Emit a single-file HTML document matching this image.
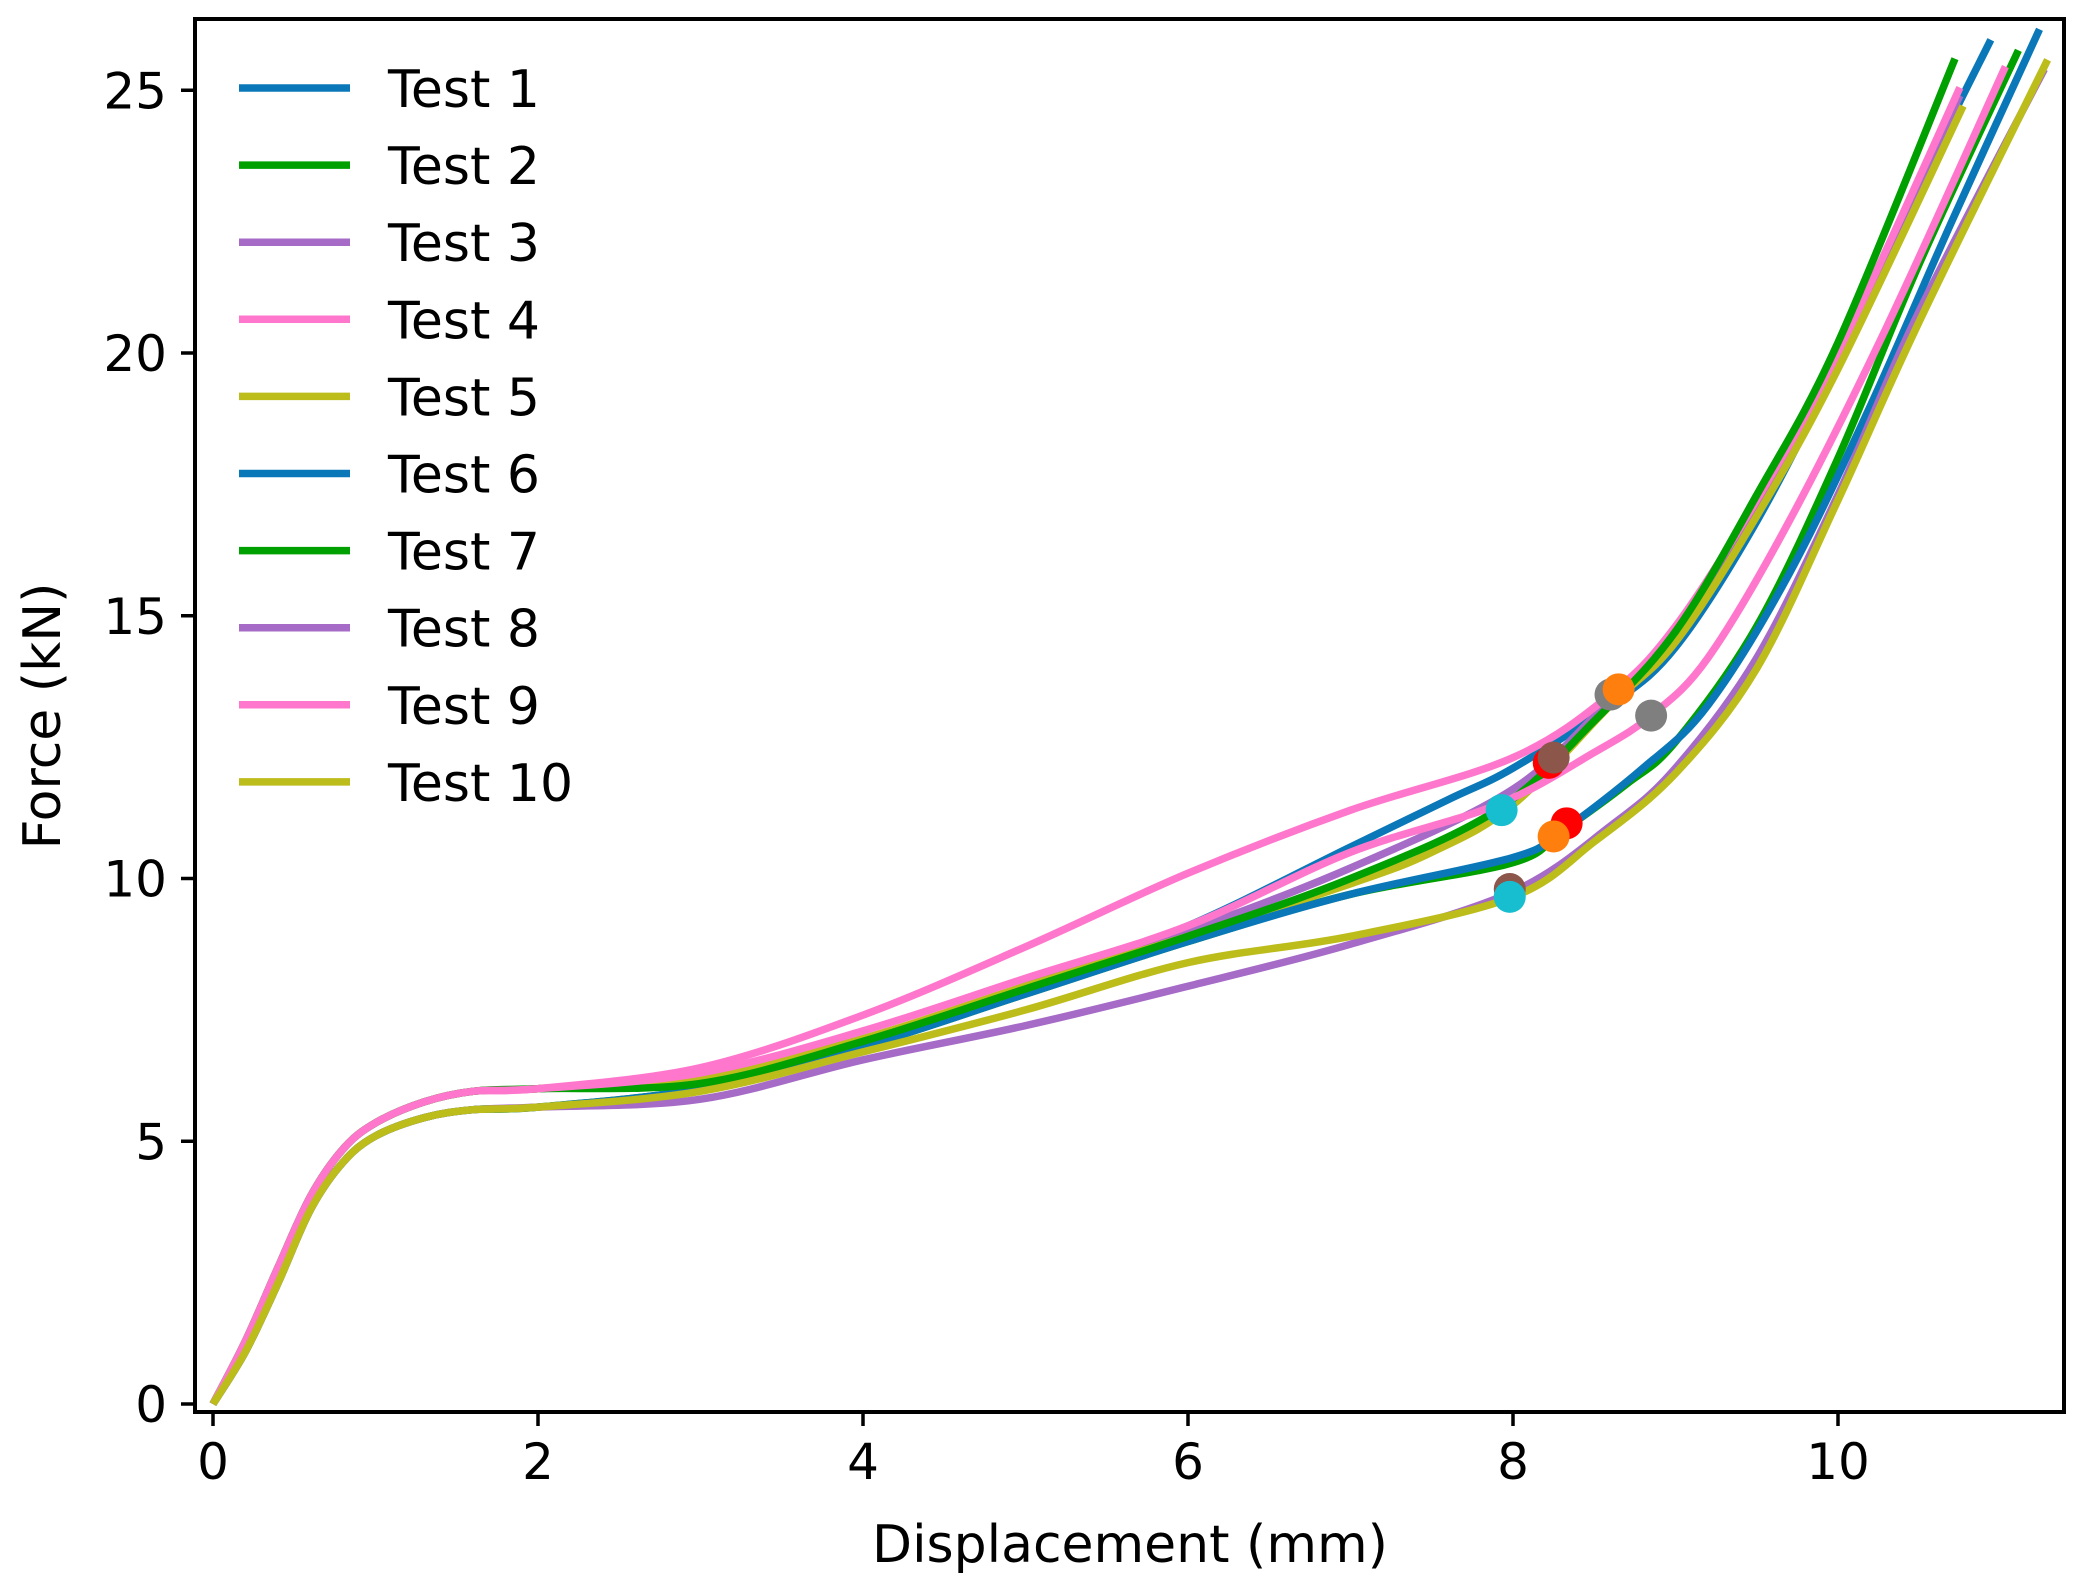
<!DOCTYPE html>
<html><head><meta charset="utf-8">
<style>html,body{margin:0;padding:0;background:#fff;}svg{display:block;font-family:"DejaVu Sans","Liberation Sans",sans-serif;}</style>
</head><body>
<svg id="chart" width="2085" height="1592" viewBox="0 0 2085 1592" xmlns="http://www.w3.org/2000/svg">
<g id="plot"></g>
<g id="axes"></g>
<g id="legend"></g>
</svg>
<script>
const seriesNames=["Test 1","Test 2","Test 3","Test 4","Test 5","Test 6","Test 7","Test 8","Test 9","Test 10"];
const seriesColors=["#0a78b8","#00a000","#a66bc6","#ff77cc","#bcbc1a","#0a78b8","#00a000","#a66bc6","#ff77cc","#bcbc1a"];
const earlyHi=[[0,0],[0.2,1.2],[0.4,2.6],[0.6,3.95],[0.8,4.85],[1,5.35],[1.3,5.75],[1.6,5.95],[2,6.0]];
const earlyLo=[[0,0],[0.2,1.0],[0.4,2.3],[0.6,3.7],[0.8,4.6],[1,5.1],[1.3,5.45],[1.6,5.6],[2,5.65]];
const s1=[[3,6.2],[4,6.95],[5,7.95],[6,9.1],[7,10.6],[7.6,11.5],[8,12.1],[8.6,13.3],[9,14.4],[9.5,16.8],[10,19.8],[10.5,23.2],[10.94,25.96]];
const s2=[[3,6.0],[4,6.8],[5,7.8],[6,8.8],[7,9.7],[8,10.3],[8.3,10.9],[8.7,11.8],[9,12.6],[9.5,14.8],[10,18],[10.5,21.7],[11.11,25.76]];
const s3=[[3,6.2],[4,6.95],[5,7.95],[6,9.0],[7,10.2],[8,11.7],[8.6,13.4],[9,14.6],[9.5,17],[10,19.9],[10.75,24.9]];
const s4=[[3,6.4],[4,7.4],[5,8.7],[6,10.1],[7,11.3],[8,12.3],[8.6,13.5],[9,14.8],[9.5,17.2],[10,20],[10.75,25.05]];
const s5=[[3,6.2],[4,6.95],[5,7.95],[6,8.9],[7,9.9],[7.5,10.5],[8,11.4],[8.6,13.3],[9,14.5],[9.5,16.9],[10,19.7],[10.77,24.7]];
const s6=[[3,6.0],[4,6.8],[5,7.8],[6,8.8],[7,9.7],[8,10.4],[8.3,10.9],[8.8,12.1],[9.2,13.3],[9.7,15.8],[10.2,19],[10.7,22.5],[11.24,26.16]];
const s7=[[3,6.1],[4,6.9],[5,7.9],[6,8.9],[7,10.0],[7.9,11.3],[8.5,13],[9,14.7],[9.5,17.3],[10,20.2],[10.72,25.6]];
const s8=[[3,5.8],[4,6.55],[5,7.2],[6,7.95],[7,8.75],[8,9.75],[8.6,11],[9,12.1],[9.5,14.2],[10,17.3],[10.5,20.8],[11.27,25.4]];
const s9=[[3,6.3],[4,7.1],[5,8.1],[6,9.1],[7,10.5],[7.9,11.4],[8.5,12.4],[8.85,13.1],[9.2,14.2],[9.7,16.8],[10.3,20.5],[11.03,25.45]];
const s10=[[3,5.95],[4,6.7],[5,7.5],[6,8.4],[7,8.9],[8,9.65],[8.5,10.7],[9,12],[9.5,14],[10,17.2],[10.5,20.6],[11.29,25.58]];
const seriesData=[s1,s2,s3,s4,s5,s6,s7,s8,s9,s10];
const markerX=[8.6,8.85,8.22,8.33,8.25,8.65,7.98,8.25,7.93,7.98];
const markerY=[13.5,13.1,12.2,11.05,10.8,13.6,9.8,12.3,11.3,9.65];
const markerColors=["#7f7f7f","#7f7f7f","#ff0000","#ff0000","#ff7f0e","#ff7f0e","#8c564b","#8c564b","#17becf","#17becf"];
const xTicks=[0,2,4,6,8,10];
const yTicks=[0,5,10,15,20,25];

const NS="http://www.w3.org/2000/svg";
const L=195,R=2064,T=19,B=1412;
const X=v=>213+v*162.5;
const Y=v=>1404-v*52.55;
function mk(tag,attrs,parent){const e=document.createElementNS(NS,tag);for(const k in attrs)e.setAttribute(k,attrs[k]);parent.appendChild(e);return e;}
function smooth(pts){
  let d="M"+X(pts[0][0]).toFixed(1)+","+Y(pts[0][1]).toFixed(1);
  for(let i=0;i<pts.length-1;i++){
    const p0=pts[Math.max(0,i-1)],p1=pts[i],p2=pts[i+1],p3=pts[Math.min(pts.length-1,i+2)];
    const c1x=X(p1[0])+(X(p2[0])-X(p0[0]))/6,c1y=Y(p1[1])+(Y(p2[1])-Y(p0[1]))/6;
    const c2x=X(p2[0])-(X(p3[0])-X(p1[0]))/6,c2y=Y(p2[1])-(Y(p3[1])-Y(p1[1]))/6;
    d+="C"+c1x.toFixed(1)+","+c1y.toFixed(1)+" "+c2x.toFixed(1)+","+c2y.toFixed(1)+" "+X(p2[0]).toFixed(1)+","+Y(p2[1]).toFixed(1);
  }
  return d;
}
const plot=document.getElementById('plot');
const lowSet=[1,5,7,9,2];
seriesData.forEach((s,i)=>{
  const base=(i===1||i===5||i===7||i===9)?earlyLo:earlyHi;
  const p=mk('path',{d:smooth(base.concat(s)),fill:'none',stroke:seriesColors[i],'stroke-width':7.5,'stroke-linecap':'butt','stroke-linejoin':'round'},plot);
  
  
});
markerX.forEach((mx,i)=>{
  const c=mk('circle',{cx:X(mx),cy:Y(markerY[i]),r:16,fill:markerColors[i]},plot);
  
  
});
const axes=document.getElementById('axes');
const frame=mk('rect',{x:L,y:T,width:R-L,height:B-T,fill:'none',stroke:'#000','stroke-width':4},axes);


xTicks.forEach(t=>{
  const tk=mk('line',{x1:X(t),x2:X(t),y1:B,y2:B+14,stroke:'#000','stroke-width':3.5},axes);
  
  
  const tx=mk('text',{x:X(t),y:B+67,'text-anchor':'middle','font-size':50,fill:'#000'},axes);
  tx.textContent=t;
  
  
});
yTicks.forEach(t=>{
  const tk=mk('line',{x1:L-14,x2:L,y1:Y(t),y2:Y(t),stroke:'#000','stroke-width':3.5},axes);
  
  
  const tx=mk('text',{x:L-28,y:Y(t)+18,'text-anchor':'end','font-size':50,fill:'#000'},axes);
  tx.textContent=t;
  
  
});
const xt=mk('text',{x:1130,y:1562,'text-anchor':'middle','font-size':52,fill:'#000'},axes);
xt.textContent='Displacement (mm)';


const yt=mk('text',{x:0,y:0,'text-anchor':'middle','font-size':52,fill:'#000',transform:'translate(60,716) rotate(-90)'},axes);
yt.textContent='Force (kN)';


const leg=document.getElementById('legend');
seriesNames.forEach((n,i)=>{
  const y=88+i*77.1;
  const ln=mk('line',{x1:239,x2:350,y1:y,y2:y,stroke:seriesColors[i],'stroke-width':7.5},leg);
  
  
  const tx=mk('text',{x:388,y:y+19,'font-size':52,fill:'#000'},leg);
  tx.textContent=n;
  
  
});
</script>
</body></html>
